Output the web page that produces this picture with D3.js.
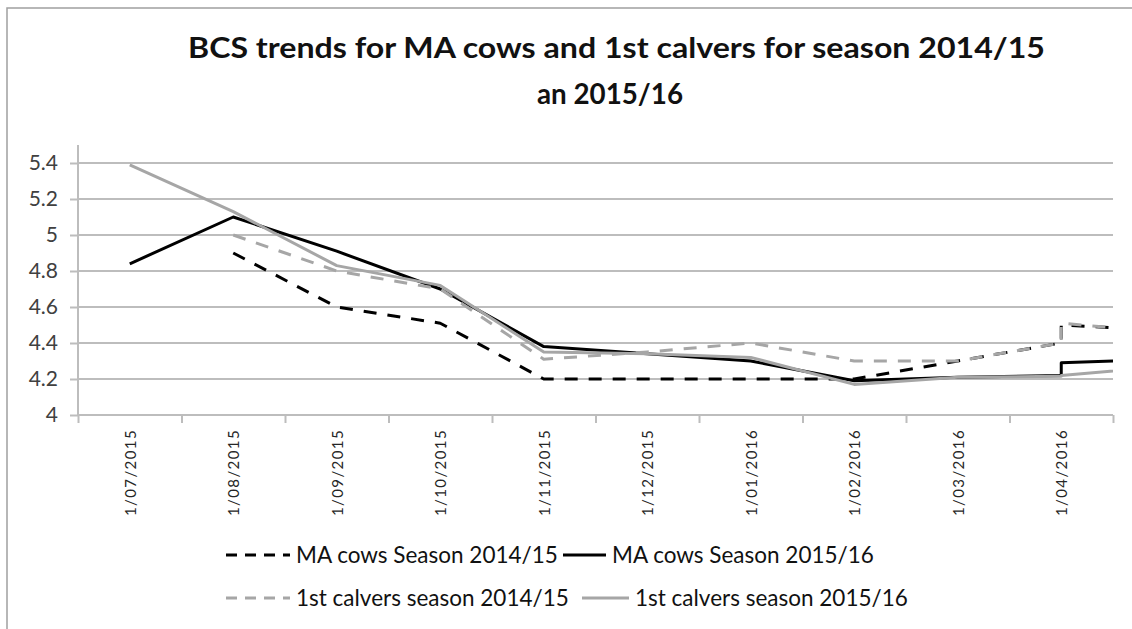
<!DOCTYPE html>
<html>
<head>
<meta charset="utf-8">
<script src="https://cdn.jsdelivr.net/npm/d3@7"></script>
<style>
  body { margin: 0; background: #fff; }
  text { font-family: Lato, "Noto Sans", sans-serif; }
</style>
</head>
<body>
<svg id="chart" width="1132" height="629"></svg>
<script>
// Month labels on the category axis
const monthLabels = ["1/07/2015", "1/08/2015", "1/09/2015", "1/10/2015", "1/11/2015",
                     "1/12/2015", "1/01/2016", "1/02/2016", "1/03/2016", "1/04/2016"];

// Month index of each BCS reading (April has two readings; index 10 is May, beyond the last label)
const readingMonth = [0, 1, 2, 3, 4, 5, 6, 7, 8, 9, 9, 10];

// Average body condition score per reading
const maCows1415      = [null, 4.90, 4.60, 4.51, 4.20, 4.20, 4.20, 4.20, 4.30, 4.40, 4.50, 4.47];
const maCows1516      = [4.84, 5.10, 4.91, 4.70, 4.38, 4.34, 4.30, 4.19, 4.21, 4.22, 4.29, 4.31];
const calvers1415     = [null, 5.00, 4.80, 4.70, 4.31, 4.35, 4.40, 4.30, 4.30, 4.40, 4.51, 4.46];
const calvers1516     = [5.39, 5.13, 4.83, 4.72, 4.35, 4.34, 4.32, 4.17, 4.21, 4.215, 4.22, 4.27];

const yTicks = [4, 4.2, 4.4, 4.6, 4.8, 5, 5.2, 5.4];

const seriesNames = ["MA cows Season 2014/15", "MA cows Season 2015/16",
                     "1st calvers season 2014/15", "1st calvers season 2015/16"];

const series = [
  { name: seriesNames[0], values: maCows1415,  color: "#000000", dash: "13,11" },
  { name: seriesNames[1], values: maCows1516,  color: "#000000", dash: null },
  { name: seriesNames[2], values: calvers1415, color: "#a6a6a6", dash: "13,11" },
  { name: seriesNames[3], values: calvers1516, color: "#a6a6a6", dash: null }
];

const svg = d3.select("#chart");
const plot = { left: 78, right: 1113, top: 145, bottom: 415 };

const x = d3.scaleLinear().domain([-0.5, monthLabels.length - 0.5]).range([plot.left, plot.right]);
const y = d3.scaleLinear().domain([4, 5.5]).range([plot.bottom, plot.top]);

// Chart frame
svg.append("rect")
  .attr("x", 7).attr("y", 8).attr("width", 1140).attr("height", 640)
  .attr("fill", "#fff").attr("stroke", "#a0a0a0").attr("stroke-width", 1.5);

// Title
svg.append("text")
  .attr("x", 188).attr("y", 58)
  .attr("font-size", 29).attr("font-weight", "bold").attr("fill", "#111")
  .attr("textLength", 857).attr("lengthAdjust", "spacingAndGlyphs")
  .text("BCS trends for MA cows and 1st calvers for season 2014/15");
svg.append("text")
  .attr("x", 537).attr("y", 104)
  .attr("font-size", 29).attr("font-weight", "bold").attr("fill", "#111")
  .attr("textLength", 146).attr("lengthAdjust", "spacingAndGlyphs")
  .text("an 2015/16");

// Horizontal gridlines
svg.append("g").selectAll("line")
  .data(yTicks.filter(t => t > 4))
  .join("line")
  .attr("x1", plot.left).attr("x2", plot.right)
  .attr("y1", d => y(d)).attr("y2", d => y(d))
  .attr("stroke", "#bdbdbd").attr("stroke-width", 2);

// Y axis
const yAxis = svg.append("g")
  .attr("transform", `translate(${plot.left},0)`)
  .call(d3.axisLeft(y).tickValues(yTicks).tickSize(8).tickPadding(12).tickFormat(d3.format("")));
yAxis.select(".domain").attr("stroke", "#bdbdbd").attr("stroke-width", 2)
  .attr("d", `M0,${plot.top}V${plot.bottom}`);
yAxis.selectAll(".tick line").attr("stroke", "#bdbdbd").attr("stroke-width", 2);
yAxis.selectAll(".tick text").attr("font-size", 21).attr("fill", "#404040")
  .attr("font-family", "Lato, 'Noto Sans', sans-serif");

// X axis: tick marks between months
const xAxis = svg.append("g")
  .attr("transform", `translate(0,${plot.bottom})`)
  .call(d3.axisBottom(x).tickValues(d3.range(monthLabels.length + 1).map(i => i - 0.5))
    .tickSize(8).tickFormat(""));
xAxis.select(".domain").attr("stroke", "#bdbdbd").attr("stroke-width", 2)
  .attr("d", `M${plot.left},0H${plot.right}`);
xAxis.selectAll(".tick line").attr("stroke", "#bdbdbd").attr("stroke-width", 2);

// Rotated month labels centred on each month
svg.append("g").selectAll("text")
  .data(monthLabels)
  .join("text")
  .attr("transform", (d, i) => `translate(${x(i) + 6},429) rotate(-90)`)
  .attr("text-anchor", "end")
  .attr("font-size", 15).attr("letter-spacing", 1.4).attr("fill", "#262626")
  .text(d => d);

// Series lines, clipped to the plot area
svg.append("clipPath").attr("id", "plot-clip")
  .append("rect")
  .attr("x", plot.left).attr("y", plot.top - 5)
  .attr("width", plot.right - plot.left).attr("height", plot.bottom - plot.top + 10);

const line = d3.line()
  .defined(d => d.v != null)
  .x(d => x(d.m))
  .y(d => y(d.v));

svg.append("g").attr("clip-path", "url(#plot-clip)")
  .selectAll("path")
  .data(series)
  .join("path")
  .attr("d", s => line(s.values.map((v, i) => ({ m: readingMonth[i], v }))))
  .attr("fill", "none")
  .attr("stroke", s => s.color)
  .attr("stroke-width", 3)
  .attr("stroke-linejoin", "round")
  .attr("stroke-dasharray", s => s.dash);

// Legend, two rows of two entries
const legendPos = [
  { sx: 226, tx: 296, y: 555 },
  { sx: 563, tx: 612, y: 555 },
  { sx: 226, tx: 296, y: 598 },
  { sx: 582, tx: 635, y: 598 }
];
const legend = svg.append("g").selectAll("g")
  .data(series)
  .join("g");
legend.append("line")
  .attr("x1", (d, i) => legendPos[i].sx)
  .attr("x2", (d, i) => legendPos[i].tx - 6)
  .attr("y1", (d, i) => legendPos[i].y).attr("y2", (d, i) => legendPos[i].y)
  .attr("stroke", d => d.color).attr("stroke-width", 3)
  .attr("stroke-dasharray", d => d.dash ? "11,8" : null);
legend.append("text")
  .attr("x", (d, i) => legendPos[i].tx)
  .attr("y", (d, i) => legendPos[i].y)
  .attr("dy", "0.35em")
  .attr("font-size", 22.5).attr("fill", "#111")
  .text(d => d.name);
</script>
</body>
</html>
